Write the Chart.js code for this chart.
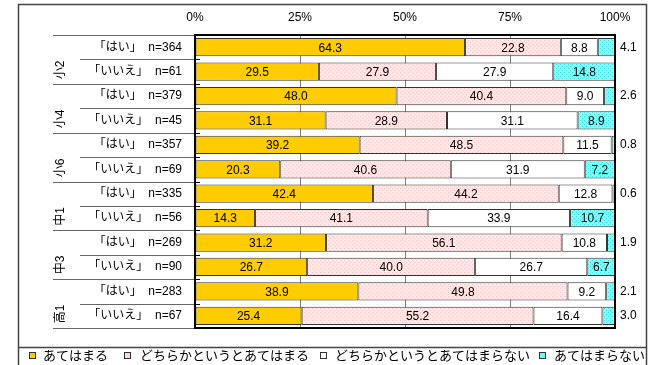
<!DOCTYPE html>
<html><head><meta charset="utf-8">
<script src="https://cdn.jsdelivr.net/npm/chart.js@4.4.1/dist/chart.umd.min.js"></script>
<style>html,body{margin:0;padding:0;background:#fff;}#wrap{width:652px;height:365px;}</style>
</head><body><div id="wrap"><canvas id="c" width="652" height="365"></canvas></div>
<script>
const groups = ['小2','小4','小6','中1','中3','高1'];
const answers = ['「はい」','「いいえ」'];
const counts = [364,61,379,45,357,69,335,56,269,90,283,67];
const seriesNames = ['あてはまる','どちらかというとあてはまる','どちらかというとあてはまらない','あてはまらない'];
const fits       = [64.3,29.5,48.0,31.1,39.2,20.3,42.4,14.3,31.2,26.7,38.9,25.4];
const ratherFits = [22.8,27.9,40.4,28.9,48.5,40.6,44.2,41.1,56.1,40.0,49.8,55.2];
const ratherNot  = [8.8,27.9,9.0,31.1,11.5,31.9,12.8,33.9,10.8,26.7,9.2,16.4];
const notFit     = [4.1,14.8,2.6,8.9,0.8,7.2,0.6,10.7,1.9,6.7,2.1,3.0];
const xTicks = [0,25,50,75,100];

const categories = counts.map((n,i)=>answers[i%2]+'  n='+n);
const FONT = "'Liberation Sans','Noto Sans CJK JP',sans-serif";

function makePattern(base, dot){
  const p=document.createElement('canvas'); p.width=4; p.height=4;
  const g=p.getContext('2d'); g.fillStyle=base; g.fillRect(0,0,4,4);
  g.fillStyle=dot; g.fillRect(0,0,1,1); g.fillRect(2,2,1,1);
  return g.createPattern(p,'repeat');
}
const ctx=document.getElementById('c').getContext('2d');
const pinkPat=makePattern('#FFEAEA','#F6C4C4');
const cyanPat=makePattern('#80FFFF','#40DCDC');
const fills=['#FFCC00',pinkPat,'#FFFFFF',cyanPat];
const legendFills=['#FFCC00','#FFD6D6','#FFFFFF','#66FFFF'];
const seriesData=[fits,ratherFits,ratherNot,notFit];

const deco={
  id:'deco',
  beforeDraw(chart){
    const c=chart.ctx; c.save();
    c.fillStyle='#fff'; c.fillRect(0,0,chart.width,chart.height);
    c.restore();
  },
  afterDraw(chart){
    const c=chart.ctx, a=chart.chartArea, ys=chart.scales.y;
    c.save();
    c.strokeStyle='#444'; c.lineWidth=1.5;
    c.strokeRect(18.5,4.5,628,400);
    c.beginPath(); c.moveTo(18,347.5); c.lineTo(647,347.5); c.stroke();
    const n=categories.length;
    const bounds=[];
    for(let k=0;k<=n;k++){
      let y;
      if(k===0) y=a.top; else if(k===n) y=a.bottom;
      else y=(ys.getPixelForValue(k-1)+ys.getPixelForValue(k))/2;
      bounds.push(Math.round(y)+0.5);
    }
    c.strokeStyle='#666'; c.lineWidth=1;
    bounds.forEach((y,k)=>{
      c.beginPath(); c.moveTo(k%2===0?53:80,y); c.lineTo(a.left,y); c.stroke();
    });
    c.strokeStyle='#000';
    bounds.forEach(y=>{c.beginPath(); c.moveTo(a.left,y); c.lineTo(a.left+5,y); c.stroke();});
    c.lineWidth=2; c.strokeStyle='#000';
    c.strokeRect(a.left,a.top,a.right-a.left,a.bottom-a.top);
    c.fillStyle='#000'; c.font='12px '+FONT; c.textAlign='center'; c.textBaseline='middle';
    groups.forEach((g,i)=>{
      const yc=(bounds[2*i]+bounds[2*i+2])/2+10;
      c.save(); c.translate(61,yc); c.rotate(-Math.PI/2); c.fillText(g,0,0); c.restore();
    });
    const sq=[29,124,320,539], tx=[43,140,335,554];
    c.font='13px '+FONT; c.textAlign='left'; c.textBaseline='middle';
    c.save(); c.beginPath(); c.rect(18,348,628,20); c.clip();
    seriesNames.forEach((s,i)=>{
      c.fillStyle=legendFills[i]; c.fillRect(sq[i],352,7,7);
      c.strokeStyle='#333'; c.lineWidth=1; c.strokeRect(sq[i]+0.5,352.5,6,6);
      c.fillStyle='#000'; c.fillText(s,tx[i],356);
    });
    c.restore();
    c.restore();
  },
  afterDatasetsDraw(chart){
    const c=chart.ctx, a=chart.chartArea;
    c.save(); c.font='12px '+FONT; c.fillStyle='#000'; c.textBaseline='middle';
    chart.data.datasets.forEach((ds,di)=>{
      const meta=chart.getDatasetMeta(di);
      meta.data.forEach((el,i)=>{
        const v=ds.data[i]; const t=v.toFixed(1);
        if(di===3 && v<5){ c.textAlign='left'; c.fillText(t,a.right+5,el.y); }
        else { c.textAlign='center'; c.fillText(t,(el.x+el.base)/2,el.y+1); }
      });
    });
    c.restore();
  }
};

new Chart(ctx,{
  type:'bar',
  data:{
    labels:categories,
    datasets:seriesData.map((d,i)=>({
      label:seriesNames[i], data:d, backgroundColor:fills[i],
      borderColor:'#333', borderWidth:1, borderSkipped:false,
      barPercentage:0.75, categoryPercentage:1
    }))
  },
  options:{
    indexAxis:'y', responsive:false, animation:false,
    layout:{padding:{left:0,right:37,top:0,bottom:37}},
    plugins:{legend:{display:false},tooltip:{enabled:false}},
    scales:{
      x:{
        position:'top', stacked:true, min:0, max:100,
        afterBuildTicks(s){ s.ticks=xTicks.map(v=>({value:v})); },
        afterFit(s){ s.height=35; },
        ticks:{callback:v=>v+'%', font:{size:12,family:FONT}, color:'#000', padding:10, maxRotation:0},
        grid:{color:'#808080', drawTicks:false, lineWidth:1},
        border:{display:false}
      },
      y:{
        stacked:true,
        afterFit(s){ s.width=195; },
        ticks:{font:{size:12,family:FONT}, color:'#000', padding:13},
        grid:{display:false, drawTicks:false},
        border:{display:false}
      }
    }
  },
  plugins:[deco]
});
</script></body></html>
